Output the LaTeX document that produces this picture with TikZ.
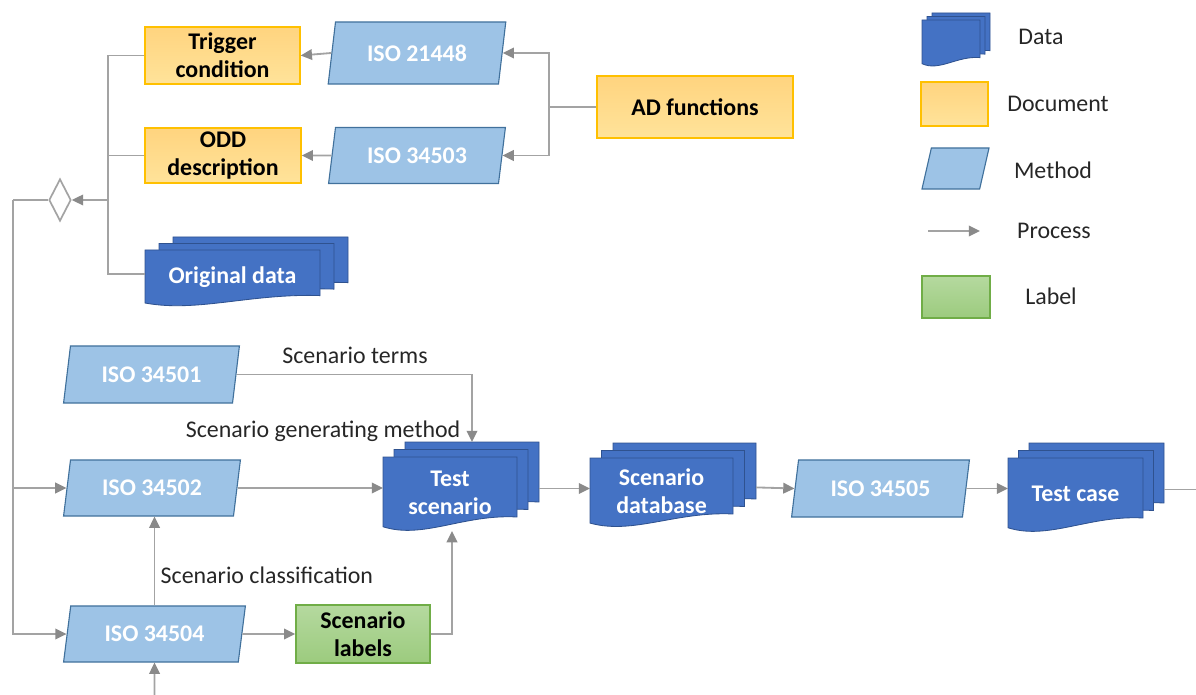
\documentclass[tikz,border=0pt]{standalone}
\usepackage{fontspec}
\setmainfont{Carlito}
\usetikzlibrary{shapes.geometric,arrows.meta}
\definecolor{linegray}{HTML}{A3A3A3}
\definecolor{tipgray}{HTML}{8A8A8A}
\definecolor{datafill}{HTML}{4472C4}
\definecolor{databorder}{HTML}{2F528F}
\definecolor{methodfill}{HTML}{9DC3E6}
\definecolor{methodborder}{HTML}{41719C}
\definecolor{doctop}{HTML}{FFD47F}
\definecolor{docbot}{HTML}{FFE39A}
\definecolor{docborder}{HTML}{FFC000}
\definecolor{labtop}{HTML}{B5D99F}
\definecolor{labbot}{HTML}{9CCB7E}
\definecolor{labborder}{HTML}{70AD47}
\definecolor{txt}{HTML}{262626}
\newcommand\bigf{\fontsize{17}{20}\selectfont}
% document-like shape: style, x0, y0 (top), w, h
\newcommand\docshape[5]{%
  \path[#1] ({#2},{#3}) -- ({(#2)+(#4)},{#3}) -- ({(#2)+(#4)},{(#3)+0.8*(#5)})
    .. controls ({(#2)+0.6*(#4)},{(#3)+0.76*(#5)}) and ({(#2)+0.3*(#4)},{(#3)+1.1*(#5)})
    .. ({#2},{(#3)+0.93*(#5)}) -- cycle;}
% multidocument: name, x0, y0, w, h, dx, dy, text
\newcommand\multidoc[8]{%
  \docshape{datashape}{(#2)+2*(#6)}{(#3)-2*(#7)}{#4}{#5}
  \docshape{datashape}{(#2)+(#6)}{(#3)-(#7)}{#4}{#5}
  \docshape{datashape}{#2}{#3}{#4}{#5}
  \node[datatext, minimum width={(#4)*0.025cm}, minimum height={0.6*(#5)*0.025cm}] (#1) at ({(#2)+0.5*(#4)},{(#3)+0.48*(#5)}) {#8};
  \coordinate (#1-l) at ({#2},{(#3)+0.42*(#5)});
  \coordinate (#1-r) at ({(#2)+(#4)+2*(#6)},{(#3)+0.42*(#5)});
}
\begin{document}
\begin{tikzpicture}[x=0.025cm, y=-0.025cm, font=\bigf,
  doc/.style={rectangle, draw=docborder, line width=1pt, top color=doctop, bottom color=docbot,
    font=\bigf\bfseries, text=black, align=center, inner sep=0pt},
  lab/.style={rectangle, draw=labborder, line width=1pt, top color=labtop, bottom color=labbot,
    font=\bigf\bfseries, text=black, align=center, inner sep=0pt},
  method/.style={trapezium, trapezium left angle=75, trapezium right angle=105,
    trapezium stretches=true, draw=methodborder, line width=0.8pt, fill=methodfill,
    font=\bigf\bfseries, text=white, inner sep=0pt},
  datashape/.style={fill=datafill, draw=databorder, line width=0.6pt},
  datatext/.style={rectangle, text=white, font=\bigf\bfseries, align=center, inner sep=0pt},
  plain/.style={text=txt, font=\bigf, inner sep=1pt},
  conn/.style={draw=linegray, line width=1.3pt},
  arr/.style={conn, -{Triangle[length=8pt,width=7.5pt,color=tipgray]}}
]
\useasboundingbox (0,0) rectangle (1196,695);

% ---------- top part ----------
\node[doc, minimum width=3.875cm, minimum height=1.425cm] (trig) at (222.5,55.5) {Trigger\\condition};
\node[doc, minimum width=3.9cm, minimum height=1.375cm] (odd) at (223,155.5) {ODD\\description};
\multidoc{od}{145}{250}{175}{57}{14}{6.5}{Original data}
\node[method, minimum width=4.45cm, minimum height=1.55cm] (i21448) at (417,53) {ISO 21448};
\node[method, minimum width=4.45cm, minimum height=1.4cm] (i34503) at (417,155.5) {ISO 34503};
\node[doc, minimum width=4.9cm, minimum height=1.55cm] (ad) at (695,107) {AD functions};
\node[diamond, draw=linegray, line width=1.2pt, fill=white, minimum width=0.55cm, minimum height=1.05cm, inner sep=0pt] (dia) at (60,200) {};

\coordinate (b1) at (108,200);
\coordinate (b2) at (13,200);
\coordinate (adj) at (549,107);
\draw[conn] (trig.west) -| (b1);
\draw[conn] (odd.west) -| (b1);
\draw[conn] (od-l) -| (b1);
\draw[arr] (b1) -- (dia.east);
\draw[conn] (dia.west) -- (b2);
\draw[arr] (i21448.west) -- (trig.east);
\draw[arr] (i34503.west) -- (odd.east);
\draw[conn] (ad.west) -- (adj);
\draw[arr] (adj) |- (i21448.east);
\draw[arr] (adj) |- (i34503.east);

% ---------- bottom part ----------
\node[method, minimum width=4.425cm, minimum height=1.425cm] (i34501) at (151.5,374.5) {ISO 34501};
\node[method, minimum width=4.45cm, minimum height=1.4cm] (i34502) at (152,488) {ISO 34502};
\node[method, minimum width=4.575cm, minimum height=1.4cm] (i34504) at (154.5,634) {ISO 34504};
\node[lab, minimum width=3.35cm, minimum height=1.45cm] (sl) at (363,634) {Scenario\\labels};
\multidoc{ts}{383}{457}{134}{75}{11}{7.5}{Test\\scenario}
\multidoc{sd}{590}{458}{143}{70}{11.5}{7.5}{Scenario\\database}
\node[method, minimum width=4.475cm, minimum height=1.425cm] (i34505) at (880.5,488.5) {ISO 34505};
\multidoc{tc}{1008}{458}{135}{75}{10.5}{7.5}{Test case}

\coordinate (ts-top) at (472,442);
\coordinate (ts-bot) at (452,531);
\coordinate (bot) at (154.5,695);
\coordinate (out) at (1196,488);

\draw[arr] (b2) |- (i34504.west);
\draw[arr] (b2) |- (i34502.west);
\draw[arr] (i34501.east) -| (ts-top);
\draw[arr] (i34502.east) -- (i34502.east -| ts-l);
\draw[arr] (i34504.north) -- (i34502.south -| i34504.north);
\draw[arr] (i34504.east) -- (sl.west);
\draw[arr] (sl.east) -| (ts-bot);
\draw[arr] (bot) -- (i34504.south);
\draw[arr] (ts-r) -- (ts-r -| sd-l);
\draw[arr] (sd-r) -- (i34505.west);
\draw[arr] (i34505.east) -- (i34505.east -| tc-l);
\draw[conn] (tc-r) -- (tc-r -| out);

\node[plain] (lterms) at (355,355) {Scenario terms};
\node[plain] (lgen) at (323,431) {Scenario generating method};
\node[plain, anchor=west] (lclass) at (159,575) {Scenario classification};

% ---------- legend ----------
\multidoc{ld}{922}{20}{58}{47}{5}{3.5}{}
\node[doc, minimum width=1.675cm, minimum height=1.1cm] (ldoc) at (954.5,104) {};
\node[method, trapezium left angle=79, trapezium right angle=101, inner sep=2pt, minimum width=1.675cm, minimum height=1.025cm] (lmeth) at (955.5,168.5) {};
\coordinate (lp1) at (928,231);
\coordinate (lp2) at (980,231);
\draw[arr] (lp1) -- (lp2);
\node[lab, minimum width=1.7cm, minimum height=1.05cm] (llab) at (956,297) {};
\node[plain] (tdata) at (1041,37) {Data};
\node[plain] (tdoc) at (1058,104) {Document};
\node[plain] (tmeth) at (1053,170) {Method};
\node[plain] (tproc) at (1054,231) {Process};
\node[plain] (tlab) at (1051,296) {Label};
\end{tikzpicture}
\end{document}
